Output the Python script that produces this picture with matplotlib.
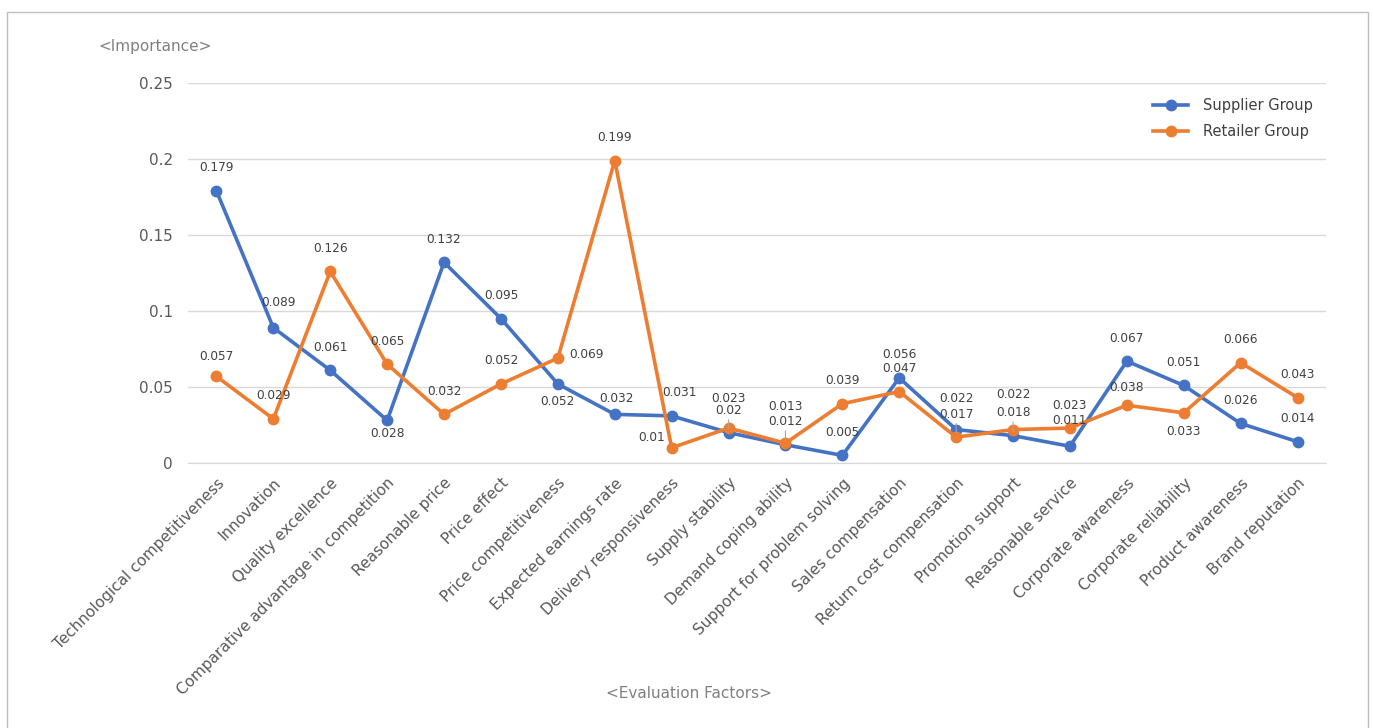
import matplotlib.pyplot as plt
from matplotlib.patches import Rectangle

categories = ['Technological competitiveness', 'Innovation', 'Quality excellence',
              'Comparative advantage in competition', 'Reasonable price', 'Price effect',
              'Price competitiveness', 'Expected earnings rate', 'Delivery responsiveness',
              'Supply stability', 'Demand coping ability', 'Support for problem solving',
              'Sales compensation', 'Return cost compensation', 'Promotion support',
              'Reasonable service', 'Corporate awareness', 'Corporate reliability',
              'Product awareness', 'Brand reputation']
supplier = [0.179, 0.089, 0.061, 0.028, 0.132, 0.095, 0.052, 0.032, 0.031, 0.02,
            0.012, 0.005, 0.056, 0.022, 0.018, 0.011, 0.067, 0.051, 0.026, 0.014]
retailer = [0.057, 0.029, 0.126, 0.065, 0.032, 0.052, 0.069, 0.199, 0.01, 0.023,
            0.013, 0.039, 0.047, 0.017, 0.022, 0.023, 0.038, 0.033, 0.066, 0.043]
yticks = [0, 0.05, 0.1, 0.15, 0.2, 0.25]
ytick_labels = ['0', '0.05', '0.1', '0.15', '0.2', '0.25']

# label offsets in pixels (dx, dy), default is straight above
sup_off = {1: (5, 25), 3: (0, -13), 6: (0, -18), 7: (2, 16), 8: (8, 23),
           9: (0, 22), 13: (0, 31), 15: (0, 26)}
ret_off = {0: (0, 20), 6: (29, 4), 8: (-20, 10), 9: (0, 30), 10: (0, 37),
           14: (0, 35), 16: (0, 18), 17: (0, -19)}
sup_leader = [9, 10, 14]
ret_leader = [13]

blue = '#4472C4'
orange = '#ED7D31'
gray = '#595959'

fig = plt.figure(figsize=(13.73, 7.28), dpi=100)
ax = fig.add_axes([188 / 1373, 1 - 463 / 728, (1326 - 188) / 1373, (463 - 83) / 728])

x = list(range(len(categories)))
ax.plot(x, supplier, color=blue, lw=2.6, marker='o', ms=7.5, label='Supplier Group', zorder=3)
ax.plot(x, retailer, color=orange, lw=2.6, marker='o', ms=7.5, label='Retailer Group', zorder=3)


def put_labels(vals, offs, leaders):
    for i, v in enumerate(vals):
        dx, dy = offs.get(i, (0, 23))
        kw = {}
        if i in leaders:
            kw['arrowprops'] = dict(arrowstyle='-', color='#a6a6a6', lw=0.8, shrinkA=0, shrinkB=3)
        ax.annotate('%g' % v, (i, v), xytext=(dx * 0.72, dy * 0.72), textcoords='offset points',
                    ha='center', va='center', fontsize=8.7, color='#404040', zorder=4, **kw)


put_labels(supplier, sup_off, sup_leader)
put_labels(retailer, ret_off, ret_leader)

ax.set_xlim(-0.5, len(categories) - 0.5)
ax.set_ylim(0, 0.25)
ax.set_yticks(yticks)
ax.set_yticklabels(ytick_labels)
ax.set_xticks(x)
ax.set_xticklabels(categories, rotation=45, ha='right', rotation_mode='anchor')
ax.tick_params(axis='both', length=0, colors=gray, labelsize=11)
ax.tick_params(axis='y', pad=11, labelsize=11)
ax.tick_params(axis='x', pad=9)
ax.grid(axis='y', color='#d9d9d9', lw=1)
ax.set_axisbelow(True)
for s in ['top', 'right', 'left']:
    ax.spines[s].set_visible(False)
ax.spines['bottom'].set_color('#d9d9d9')

fig.text(155 / 1373, 1 - 46 / 728, '<Importance>', ha='center', va='center', fontsize=11, color='#808080')
fig.text(689 / 1373, 1 - 694 / 728, '<Evaluation Factors>', ha='center', va='center', fontsize=11, color='#808080')

ax.legend(loc='upper right', bbox_to_anchor=(1.0, 0.995), frameon=False, fontsize=10.5,
          handlelength=2.4, handletextpad=1.0, labelspacing=0.75, labelcolor='#404040')

fig.patches.append(Rectangle((7 / 1373, -0.02), (1368 - 7) / 1373, 1 - 12 / 728 + 0.02,
                             transform=fig.transFigure, fill=False, edgecolor='#bfbfbf', lw=1))

fig.savefig('out.png', dpi=100)
